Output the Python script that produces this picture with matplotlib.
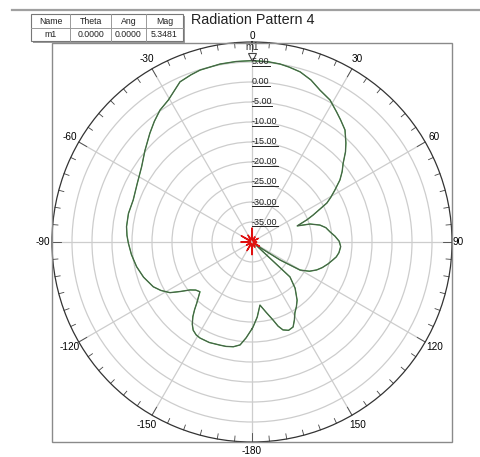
import numpy as np
import matplotlib
matplotlib.use('Agg')
import matplotlib.pyplot as plt
from matplotlib.patches import Rectangle
from matplotlib.lines import Line2D

plt.rcParams['font.family'] = ['Liberation Sans', 'DejaVu Sans']

W, H = 481, 457

# pattern (deg, dB)
theta_deg = [-180, -176.5, -173.4, -169.9, -166, -162.7, -157, -151.6, -149, -146.3,
             -144, -141.6, -139.7, -137.9, -135.8, -133.7, -130.5, -127.7, -124.6,
             -121.7, -118, -114.4, -108, -102.1, -96, -90.6, -87, -83, -77, -70.5,
             -63, -55.7, -49.5, -43.2, -39, -34.9, -30.5, -24.2, -20, -16.8, -10.2,
             -5, 0, 5, 8.9, 12, 15.8, 20, 24.1, 28.8, 33, 36, 39.7, 43.5, 46, 49.2,
             52, 54.8, 58, 60.5, 62.5, 66.2, 68, 70.4, 72.8, 76, 79, 82.7, 86, 89.5,
             93, 97, 100, 102.5, 106, 110, 113.4, 117, 120.3, 122.7, 127, 132.6, 137,
             142.2, 145.5, 148.8, 151.5, 154.2, 157.5, 160.6, 162.8, 164.9, 168.5,
             172.8, 176, 179.3, 180]
mag_db = [-18.3, -16.0, -14.1, -13.4, -13.1, -13.0, -12.7, -12.7, -12.9, -13.5,
          -14.6, -16.2, -17.8, -19.4, -20.8, -22.0, -21.5, -20.4, -18.2,
          -15.9, -14.2, -12.9, -11.5, -10.5, -9.7, -9.1, -8.7, -8.4, -8.3, -8.5,
          -7.8, -6.6, -4.8, -2.7, -1.2, 0.2, 1.2, 3.9, 4.5, 4.9, 5.2,
          5.3, 5.35, 5.25, 5.05, 4.7, 4.2, 3.1, 1.6, 0.5, -1.2, -2.3, -3.6, -5.9, -7.5, -9.9,
          -11.4, -13.1, -15.6, -17.4, -18.9, -23.3, -25.2, -28.0, -24.8, -22.5, -21.2, -20.3, -19.2, -18.2,
          -17.8, -18.1, -18.6, -19.3, -20.2, -21.3, -22.4, -23.9, -26.1, -31.7, -39.0, -27.1, -24.2,
          -21.6, -20.4, -19.3, -17.8, -16.4, -16.1, -16.7, -18.0, -19.8, -22.0,
          -24.1, -21.2, -18.75, -18.3]

# small red trace near the centre
red_deg = list(range(0, 361, 15))
red_db = [-36.6, -39.5, -38.5, -39.6, -38.2, -39.7, -38.8, -39.5, -37.8, -39.6,
          -38.5, -39.4, -36.8, -39.5, -37.5, -39.6, -38.4, -39.5, -37.2, -39.6,
          -36.9, -39.5, -38.0, -39.4, -36.6]

ring_vals = [5, 0, -5, -10, -15, -20, -25, -30, -35]
ang_labels = [0, 30, 60, 90, 120, 150, 180, -150, -120, -90, -60, -30]

table_head = ['Name', 'Theta', 'Ang', 'Mag']
table_row = ['m1', '0.0000', '0.0000', '5.3481']
marker_ang, marker_mag = 0.0, 5.3481

fig = plt.figure(figsize=(W / 100, H / 100), dpi=100)
fig.patch.set_facecolor('white')

def fx(px):
    return px / W

def fy(py):
    return 1 - py / H

# box around polar area
fig.add_artist(Rectangle((fx(52), fy(442)), 400 / W, 399 / H, transform=fig.transFigure,
                         fill=False, ec='#8a8a8a', lw=1.0))
# top gray rule
fig.add_artist(Line2D([fx(12), 1], [fy(9.5), fy(9.5)], transform=fig.transFigure,
                      color='#a0a0a0', lw=1.6))

ax = fig.add_axes([fx(52), fy(442), 400 / W, 400 / H], projection='polar')
ax.set_theta_zero_location('N')
ax.set_theta_direction(-1)
ax.set_rlim(-40, 10)
ax.set_thetagrids(range(0, 360, 30), labels=[])
ax.set_rgrids(ring_vals, labels=[])
ax.grid(True, color='#cdcdcd', lw=0.9)
ax.spines['polar'].set_color('#333333')
ax.spines['polar'].set_linewidth(0.9)
ax.tick_params(length=0)

# ticks on the outer circle
for a in range(0, 360, 5):
    ln = 2.3 if a % 30 == 0 else 1.3
    ax.plot([np.deg2rad(a)] * 2, [10, 10 - ln], color='#444444', lw=0.6, clip_on=False)

th = np.deg2rad(theta_deg)
ax.plot(th, mag_db, color='#3aa03a', lw=1.0)
ax.plot(th, mag_db, color='#505050', lw=0.6)
ax.plot(np.deg2rad(red_deg), red_db, color='#e01010', lw=1.0)

# marker m1
ax.plot([np.deg2rad(marker_ang)], [marker_mag + 0.9], marker='v', ms=6, mfc='white',
        mec='#444444', mew=0.8, ls='none', clip_on=False)
ax.text(0, marker_mag + 3.3, 'm1', fontsize=7, ha='center', va='center', color='#222222')

# angle labels
for a in ang_labels:
    t = np.deg2rad(a)
    if a == 0:
        ax.text(t, 10.3, '0', fontsize=7.2, ha='center', va='bottom')
    elif a == 180:
        ax.text(t, 10.9, '-180', fontsize=7.2, ha='center', va='top')
    elif a == 90:
        ax.text(t, 10.2, '90', fontsize=7.2, ha='left', va='center')
    elif a == -90:
        ax.text(t, 10.5, '-90', fontsize=7.2, ha='right', va='center')
    else:
        ax.text(t, 12.7, str(a), fontsize=7.2, ha='center', va='center')

# ring labels, underlined
ring_texts = []
for v in ring_vals:
    ring_texts.append(ax.text(0, v, '%.2f' % v, fontsize=6.5, ha='left', va='center',
                              color='#222222'))

# marker table
cols = [31, 70, 111, 146, 183]
ty0, ty1, ty2 = 14, 28, 41
fig.add_artist(Rectangle((fx(cols[0] + 2), fy(ty2 + 2)), (cols[-1] - cols[0]) / W,
                         (ty2 - ty0) / H, transform=fig.transFigure, fc='#9a9a9a', ec='none'))
fig.add_artist(Rectangle((fx(cols[0]), fy(ty2)), (cols[-1] - cols[0]) / W,
                         (ty2 - ty0) / H, transform=fig.transFigure, fc='white',
                         ec='#777777', lw=0.8))
for c in cols[1:-1]:
    fig.add_artist(Line2D([fx(c), fx(c)], [fy(ty0), fy(ty2)], transform=fig.transFigure,
                          color='#999999', lw=0.7))
fig.add_artist(Line2D([fx(cols[0]), fx(cols[-1])], [fy(ty1), fy(ty1)],
                      transform=fig.transFigure, color='#999999', lw=0.7))
for i in range(4):
    xc = fx((cols[i] + cols[i + 1]) / 2)
    fig.text(xc, fy((ty0 + ty1) / 2), table_head[i], fontsize=6.3, ha='center', va='center',
             color='#222222')
    fig.text(xc, fy((ty1 + ty2) / 2), table_row[i], fontsize=6.3, ha='center', va='center',
             color='#222222')

fig.text(fx(191), fy(20.5), 'Radiation Pattern 4', fontsize=10.4, ha='left', va='center',
         color='#222222')

fig.canvas.draw()
rend = fig.canvas.get_renderer()
inv = fig.transFigure.inverted()
for t in ring_texts:
    bb = t.get_window_extent(rend)
    p0 = inv.transform((bb.x0, bb.y0 + 0.5))
    p1 = inv.transform((bb.x1, bb.y0 + 0.5))
    fig.add_artist(Line2D([p0[0], p1[0]], [p0[1], p1[1]], transform=fig.transFigure,
                          color='#222222', lw=0.7))

fig.savefig('out.png', dpi=100)
